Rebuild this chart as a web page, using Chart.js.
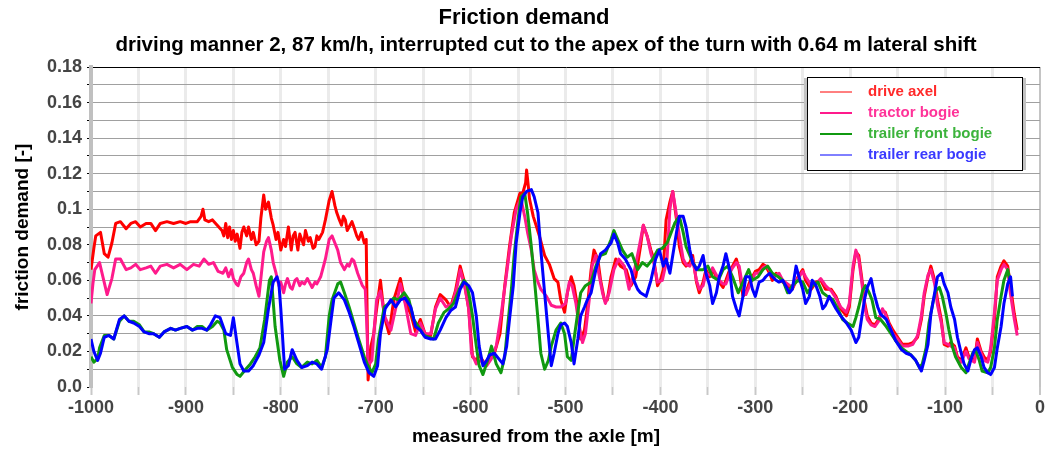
<!DOCTYPE html>
<html lang="en">
<head>
<meta charset="UTF-8">
<title>Friction demand</title>
<script src="https://cdn.jsdelivr.net/npm/chart.js@4"></script>
<style>
  html, body { margin: 0; padding: 0; background: #fff; }
  #wrap { width: 1048px; height: 451px; }
</style>
</head>
<body>
<div id="wrap"><canvas id="chart" width="1048" height="451"></canvas></div>
<script>
const FONT = "'Liberation Sans', Arial, sans-serif";

const seriesLabels = ['drive axel', 'tractor bogie', 'trailer front bogie', 'trailer rear bogie'];
const xTickLabels = ['-1000', '', '-900', '', '-800', '', '-700', '', '-600', '', '-500', '',
  '-400', '', '-300', '', '-200', '', '-100', '', '0'];
const yTickLabels = ['0.0', '', '0.02', '', '0.04', '', '0.06', '', '0.08', '', '0.1', '',
  '0.12', '', '0.14', '', '0.16', '', '0.18'];
const subtitleText = 'driving manner 2, 87 km/h, interrupted cut to the apex of the turn with 0.64 m lateral shift';
const xAxisTitle = 'measured from the axle [m]';

// [distance m, friction demand]
const driveAxel = [
  [-1000,0.066],[-997,0.078],[-995,0.085],[-990,0.087],[-986,0.075],[-982,0.073],[-978,0.081],
  [-974,0.092],[-969,0.093],[-963,0.089],[-958,0.092],[-953,0.093],[-948,0.090],[-942,0.092],
  [-937,0.092],[-932,0.088],[-927,0.092],[-920,0.093],[-913,0.092],[-906,0.093],[-900,0.092],
  [-895,0.093],[-888,0.093],[-884,0.096],[-882,0.100],[-880,0.094],[-876,0.093],[-872,0.094],
  [-867,0.091],[-862,0.088],[-860,0.085],[-858,0.092],[-856,0.084],[-854,0.090],[-852,0.083],
  [-850,0.088],[-848,0.082],[-846,0.086],[-843,0.078],[-841,0.087],[-839,0.090],[-836,0.085],
  [-834,0.090],[-831,0.083],[-829,0.087],[-826,0.080],[-823,0.082],[-821,0.095],[-818,0.108],
  [-816,0.100],[-813,0.104],[-810,0.095],[-808,0.091],[-805,0.083],[-803,0.087],[-800,0.077],
  [-797,0.083],[-795,0.079],[-792,0.090],[-789,0.077],[-787,0.085],[-785,0.087],[-782,0.077],
  [-780,0.086],[-778,0.083],[-776,0.080],[-774,0.088],[-771,0.082],[-769,0.084],[-766,0.078],
  [-764,0.079],[-762,0.085],[-760,0.083],[-756,0.087],[-753,0.094],[-749,0.105],[-746,0.110],
  [-743,0.102],[-741,0.098],[-739,0.095],[-736,0.091],[-734,0.096],[-732,0.094],[-730,0.088],
  [-728,0.090],[-725,0.093],[-723,0.090],[-720,0.085],[-718,0.083],[-715,0.087],[-712,0.081],
  [-710,0.083],[-709,0.040],[-708,0.004],[-705,0.023],[-702,0.030],[-700,0.040],[-695,0.060],
  [-691,0.040],[-686,0.030],[-681,0.049],[-674,0.061],[-669,0.048],[-663,0.041],[-658,0.031],
  [-653,0.038],[-648,0.030],[-642,0.029],[-637,0.045],[-632,0.052],[-626,0.049],[-621,0.045],
  [-616,0.054],[-611,0.068],[-607,0.060],[-602,0.044],[-598,0.017],[-594,0.015],[-591,0.018],
  [-585,0.013],[-580,0.017],[-576,0.017],[-569,0.030],[-564,0.057],[-559,0.079],[-554,0.098],
  [-548,0.109],[-545,0.109],[-542,0.115],[-541,0.122],[-539,0.112],[-538,0.106],[-534,0.096],
  [-531,0.091],[-527,0.084],[-522,0.074],[-517,0.069],[-512,0.061],[-508,0.059],[-505,0.049],
  [-501,0.042],[-498,0.053],[-494,0.062],[-491,0.057],[-487,0.044],[-484,0.027],[-480,0.032],
  [-477,0.045],[-473,0.066],[-470,0.077],[-466,0.072],[-463,0.060],[-459,0.049],[-456,0.049],
  [-452,0.062],[-447,0.072],[-442,0.068],[-436,0.066],[-431,0.057],[-426,0.062],[-421,0.079],
  [-418,0.091],[-414,0.085],[-410,0.077],[-407,0.072],[-403,0.057],[-400,0.060],[-397,0.066],
  [-394,0.094],[-390,0.104],[-387,0.110],[-383,0.094],[-380,0.079],[-376,0.070],[-373,0.068],
  [-369,0.070],[-366,0.074],[-362,0.059],[-359,0.053],[-355,0.059],[-352,0.066],[-348,0.062],
  [-345,0.066],[-341,0.062],[-338,0.059],[-334,0.056],[-331,0.060],[-327,0.066],[-324,0.068],
  [-320,0.072],[-317,0.066],[-313,0.051],[-310,0.053],[-306,0.059],[-303,0.062],[-300,0.065],
  [-296,0.066],[-292,0.069],[-289,0.068],[-285,0.064],[-282,0.060],[-278,0.064],[-275,0.062],
  [-271,0.059],[-266,0.057],[-261,0.055],[-255,0.062],[-250,0.066],[-247,0.060],[-241,0.055],
  [-236,0.059],[-231,0.060],[-226,0.055],[-220,0.055],[-215,0.051],[-210,0.044],[-204,0.040],
  [-201,0.045],[-197,0.066],[-194,0.076],[-191,0.074],[-188,0.062],[-185,0.048],[-182,0.040],
  [-178,0.036],[-174,0.035],[-170,0.038],[-166,0.043],[-163,0.042],[-159,0.036],[-155,0.032],
  [-150,0.028],[-145,0.024],[-139,0.024],[-134,0.025],[-129,0.028],[-125,0.038],[-122,0.051],
  [-118,0.062],[-115,0.068],[-111,0.060],[-108,0.049],[-104,0.038],[-101,0.024],[-97,0.023],
  [-94,0.025],[-90,0.023],[-87,0.017],[-83,0.015],[-78,0.022],[-75,0.017],[-69,0.015],
  [-66,0.027],[-62,0.020],[-59,0.017],[-55,0.015],[-52,0.020],[-48,0.038],[-45,0.062],
  [-41,0.068],[-38,0.071],[-34,0.068],[-31,0.056],[-27,0.041],[-24,0.032]
];

const tractorBogie = [
  [-1000,0.047],[-998,0.058],[-996,0.066],[-991,0.070],[-987,0.061],[-983,0.052],[-978,0.061],
  [-974,0.072],[-969,0.072],[-963,0.066],[-958,0.067],[-953,0.069],[-948,0.066],[-942,0.067],
  [-937,0.068],[-932,0.064],[-927,0.068],[-920,0.069],[-913,0.067],[-906,0.069],[-899,0.066],
  [-892,0.069],[-886,0.068],[-881,0.072],[-876,0.069],[-871,0.070],[-866,0.065],[-861,0.064],
  [-858,0.067],[-855,0.062],[-852,0.066],[-850,0.061],[-847,0.058],[-845,0.057],[-842,0.062],
  [-839,0.064],[-836,0.070],[-834,0.072],[-831,0.066],[-829,0.064],[-826,0.057],[-823,0.051],
  [-820,0.066],[-818,0.076],[-815,0.082],[-813,0.084],[-810,0.077],[-808,0.070],[-805,0.064],
  [-802,0.057],[-800,0.059],[-797,0.053],[-795,0.058],[-793,0.061],[-790,0.056],[-788,0.055],
  [-785,0.060],[-783,0.061],[-780,0.057],[-778,0.059],[-775,0.058],[-772,0.061],[-770,0.059],
  [-767,0.056],[-764,0.059],[-762,0.058],[-758,0.062],[-753,0.072],[-749,0.083],[-746,0.085],
  [-743,0.081],[-740,0.077],[-737,0.070],[-733,0.066],[-730,0.069],[-728,0.068],[-725,0.072],
  [-723,0.071],[-719,0.064],[-714,0.057],[-711,0.055],[-709,0.030],[-708,0.012],[-704,0.015],
  [-702,0.030],[-699,0.049],[-695,0.054],[-690,0.039],[-684,0.032],[-679,0.044],[-674,0.058],
  [-669,0.047],[-663,0.030],[-658,0.029],[-653,0.036],[-648,0.030],[-642,0.030],[-637,0.044],
  [-632,0.050],[-626,0.045],[-619,0.047],[-614,0.057],[-611,0.066],[-606,0.056],[-602,0.044],
  [-599,0.019],[-594,0.013],[-589,0.015],[-583,0.012],[-578,0.016],[-573,0.023],[-568,0.040],
  [-562,0.064],[-557,0.085],[-552,0.100],[-547,0.106],[-543,0.096],[-540,0.087],[-536,0.077],
  [-533,0.066],[-529,0.059],[-526,0.055],[-520,0.051],[-515,0.046],[-510,0.045],[-505,0.045],
  [-500,0.047],[-496,0.059],[-493,0.057],[-489,0.047],[-485,0.032],[-482,0.025],[-479,0.030],
  [-475,0.049],[-472,0.068],[-468,0.074],[-465,0.064],[-461,0.053],[-458,0.047],[-454,0.053],
  [-449,0.066],[-444,0.072],[-438,0.068],[-433,0.055],[-428,0.064],[-423,0.077],[-418,0.091],
  [-414,0.085],[-410,0.075],[-407,0.070],[-403,0.059],[-398,0.060],[-393,0.072],[-390,0.100],
  [-387,0.110],[-384,0.100],[-380,0.085],[-376,0.072],[-373,0.069],[-369,0.068],[-366,0.072],
  [-362,0.060],[-359,0.055],[-355,0.057],[-352,0.064],[-348,0.063],[-345,0.067],[-341,0.063],
  [-338,0.060],[-334,0.058],[-331,0.058],[-327,0.064],[-324,0.067],[-320,0.070],[-317,0.068],
  [-313,0.055],[-310,0.052],[-306,0.057],[-303,0.061],[-300,0.064],[-296,0.064],[-292,0.067],
  [-289,0.068],[-285,0.066],[-282,0.062],[-278,0.063],[-275,0.064],[-271,0.060],[-266,0.058],
  [-261,0.056],[-255,0.061],[-250,0.065],[-247,0.062],[-241,0.057],[-236,0.058],[-231,0.061],
  [-226,0.057],[-220,0.054],[-215,0.050],[-210,0.045],[-204,0.042],[-201,0.047],[-197,0.068],
  [-194,0.077],[-191,0.072],[-188,0.060],[-185,0.046],[-182,0.038],[-178,0.035],[-174,0.034],
  [-170,0.037],[-166,0.044],[-163,0.041],[-159,0.035],[-155,0.030],[-150,0.027],[-145,0.023],
  [-139,0.023],[-134,0.024],[-129,0.029],[-125,0.040],[-122,0.053],[-118,0.063],[-115,0.066],
  [-111,0.058],[-108,0.046],[-104,0.036],[-101,0.025],[-97,0.024],[-94,0.023],[-90,0.022],
  [-87,0.016],[-83,0.014],[-78,0.020],[-75,0.016],[-69,0.014],[-66,0.025],[-62,0.019],
  [-59,0.015],[-55,0.014],[-52,0.022],[-48,0.042],[-45,0.060],[-41,0.066],[-38,0.069],
  [-34,0.066],[-31,0.052],[-27,0.038],[-24,0.029]
];

const trailerFront = [
  [-1000,0.017],[-997,0.014],[-993,0.016],[-991,0.022],[-986,0.029],[-981,0.029],[-976,0.027],
  [-970,0.037],[-965,0.040],[-960,0.037],[-955,0.037],[-949,0.035],[-944,0.031],[-939,0.031],
  [-934,0.030],[-928,0.028],[-923,0.031],[-916,0.033],[-911,0.032],[-906,0.033],[-899,0.034],
  [-893,0.032],[-888,0.034],[-883,0.034],[-878,0.032],[-872,0.034],[-867,0.037],[-864,0.036],
  [-860,0.032],[-857,0.021],[-851,0.011],[-846,0.007],[-843,0.006],[-837,0.010],[-832,0.013],
  [-827,0.017],[-822,0.022],[-817,0.038],[-812,0.060],[-810,0.062],[-806,0.034],[-801,0.015],
  [-797,0.006],[-793,0.014],[-788,0.017],[-783,0.013],[-778,0.011],[-772,0.014],[-767,0.013],
  [-762,0.015],[-757,0.011],[-753,0.017],[-749,0.040],[-746,0.049],[-740,0.058],[-737,0.059],
  [-733,0.053],[-728,0.045],[-723,0.036],[-718,0.027],[-712,0.017],[-709,0.013],[-704,0.008],
  [-700,0.013],[-697,0.027],[-691,0.045],[-686,0.047],[-681,0.050],[-676,0.049],[-670,0.053],
  [-665,0.049],[-660,0.038],[-655,0.034],[-649,0.029],[-644,0.028],[-639,0.027],[-634,0.036],
  [-628,0.042],[-623,0.044],[-618,0.047],[-612,0.055],[-607,0.060],[-604,0.058],[-601,0.050],
  [-598,0.040],[-594,0.023],[-591,0.012],[-587,0.007],[-582,0.015],[-578,0.023],[-573,0.013],
  [-568,0.008],[-564,0.017],[-561,0.034],[-557,0.055],[-554,0.075],[-550,0.094],[-547,0.107],
  [-543,0.109],[-540,0.098],[-536,0.079],[-533,0.062],[-529,0.038],[-526,0.019],[-522,0.010],
  [-518,0.015],[-515,0.023],[-510,0.032],[-505,0.036],[-501,0.030],[-498,0.017],[-494,0.015],
  [-491,0.027],[-487,0.042],[-484,0.053],[-479,0.057],[-473,0.059],[-468,0.068],[-463,0.074],
  [-458,0.075],[-452,0.083],[-449,0.088],[-445,0.083],[-440,0.077],[-435,0.073],[-430,0.075],
  [-424,0.066],[-419,0.070],[-414,0.068],[-408,0.072],[-403,0.077],[-398,0.078],[-393,0.081],
  [-390,0.085],[-385,0.092],[-380,0.096],[-376,0.087],[-373,0.079],[-369,0.074],[-366,0.070],
  [-361,0.066],[-355,0.066],[-350,0.068],[-345,0.062],[-339,0.060],[-334,0.066],[-329,0.068],
  [-324,0.062],[-318,0.053],[-313,0.059],[-307,0.066],[-303,0.060],[-297,0.062],[-292,0.066],
  [-287,0.068],[-282,0.064],[-276,0.062],[-271,0.060],[-266,0.053],[-261,0.057],[-255,0.060],
  [-250,0.059],[-245,0.053],[-240,0.057],[-234,0.059],[-229,0.053],[-224,0.051],[-218,0.049],
  [-213,0.044],[-208,0.038],[-203,0.036],[-197,0.034],[-194,0.039],[-191,0.045],[-187,0.054],
  [-184,0.057],[-180,0.053],[-177,0.049],[-173,0.039],[-168,0.038],[-162,0.034],[-157,0.030],
  [-152,0.026],[-146,0.022],[-141,0.020],[-136,0.018],[-131,0.015],[-127,0.011],[-124,0.013],
  [-120,0.022],[-117,0.036],[-113,0.047],[-110,0.054],[-106,0.056],[-103,0.051],[-99,0.041],
  [-96,0.032],[-92,0.022],[-89,0.017],[-83,0.011],[-78,0.008],[-75,0.013],[-71,0.019],
  [-68,0.021],[-64,0.015],[-61,0.009],[-55,0.008],[-52,0.011],[-48,0.022],[-45,0.038],
  [-41,0.051],[-38,0.060],[-34,0.066],[-31,0.058]
];

const trailerRear = [
  [-1000,0.027],[-997,0.020],[-993,0.015],[-990,0.019],[-986,0.028],[-981,0.029],[-976,0.027],
  [-970,0.038],[-965,0.040],[-960,0.037],[-955,0.036],[-949,0.034],[-944,0.031],[-939,0.030],
  [-934,0.030],[-928,0.028],[-923,0.031],[-916,0.033],[-911,0.032],[-906,0.033],[-899,0.034],
  [-893,0.032],[-888,0.033],[-883,0.033],[-878,0.032],[-874,0.035],[-869,0.040],[-864,0.039],
  [-858,0.030],[-853,0.029],[-850,0.039],[-846,0.024],[-843,0.013],[-839,0.009],[-834,0.009],
  [-829,0.012],[-823,0.018],[-818,0.025],[-813,0.044],[-808,0.059],[-804,0.062],[-802,0.058],
  [-800,0.044],[-796,0.010],[-792,0.012],[-788,0.021],[-783,0.015],[-778,0.011],[-772,0.012],
  [-767,0.014],[-762,0.013],[-757,0.010],[-751,0.021],[-747,0.038],[-744,0.050],[-739,0.053],
  [-733,0.049],[-728,0.042],[-723,0.034],[-718,0.025],[-712,0.014],[-707,0.008],[-702,0.006],
  [-698,0.012],[-695,0.030],[-690,0.044],[-684,0.049],[-679,0.045],[-674,0.049],[-669,0.050],
  [-663,0.045],[-658,0.034],[-653,0.032],[-648,0.028],[-642,0.027],[-637,0.027],[-632,0.032],
  [-626,0.039],[-621,0.043],[-616,0.045],[-611,0.055],[-607,0.059],[-602,0.057],[-598,0.053],
  [-594,0.040],[-591,0.023],[-587,0.012],[-583,0.015],[-580,0.018],[-575,0.019],[-569,0.015],
  [-566,0.013],[-562,0.023],[-559,0.038],[-555,0.057],[-552,0.081],[-548,0.098],[-545,0.107],
  [-541,0.110],[-536,0.111],[-533,0.107],[-529,0.098],[-526,0.077],[-522,0.053],[-518,0.029],
  [-515,0.012],[-512,0.019],[-508,0.030],[-505,0.035],[-501,0.036],[-498,0.034],[-494,0.025],
  [-491,0.013],[-487,0.027],[-484,0.040],[-480,0.045],[-477,0.049],[-473,0.053],[-468,0.066],
  [-463,0.075],[-458,0.077],[-452,0.081],[-449,0.086],[-445,0.081],[-442,0.075],[-437,0.072],
  [-431,0.066],[-428,0.060],[-424,0.055],[-421,0.053],[-415,0.051],[-410,0.060],[-405,0.072],
  [-401,0.077],[-397,0.068],[-394,0.072],[-390,0.064],[-387,0.074],[-383,0.087],[-380,0.096],
  [-376,0.096],[-373,0.090],[-369,0.077],[-366,0.070],[-362,0.066],[-359,0.068],[-355,0.074],
  [-352,0.064],[-348,0.057],[-345,0.047],[-341,0.053],[-338,0.062],[-334,0.068],[-331,0.075],
  [-327,0.066],[-324,0.051],[-320,0.044],[-317,0.040],[-313,0.051],[-310,0.062],[-306,0.062],
  [-303,0.055],[-300,0.051],[-296,0.059],[-292,0.060],[-289,0.062],[-285,0.064],[-282,0.062],
  [-278,0.060],[-275,0.059],[-271,0.060],[-268,0.057],[-264,0.053],[-261,0.055],[-257,0.068],
  [-254,0.062],[-250,0.055],[-247,0.047],[-243,0.051],[-240,0.060],[-236,0.057],[-232,0.051],
  [-229,0.044],[-226,0.046],[-222,0.051],[-218,0.047],[-215,0.044],[-210,0.040],[-204,0.036],
  [-199,0.032],[-194,0.025],[-191,0.028],[-185,0.049],[-182,0.056],[-178,0.061],[-175,0.053],
  [-171,0.045],[-168,0.041],[-162,0.038],[-157,0.032],[-152,0.026],[-146,0.021],[-141,0.019],
  [-136,0.018],[-131,0.015],[-125,0.009],[-122,0.015],[-118,0.024],[-115,0.041],[-111,0.053],
  [-108,0.062],[-104,0.064],[-101,0.058],[-97,0.053],[-94,0.045],[-90,0.038],[-87,0.028],
  [-83,0.019],[-80,0.013],[-76,0.009],[-73,0.015],[-69,0.021],[-66,0.022],[-62,0.017],
  [-59,0.011],[-55,0.008],[-52,0.007],[-48,0.011],[-45,0.022],[-41,0.034],[-38,0.047],
  [-34,0.058],[-31,0.062],[-29,0.051]
];

const seriesData = [driveAxel, tractorBogie, trailerFront, trailerRear];
const seriesColors = ['#ff0000', '#ff1a8c', '#109910', '#0000ff'];
const legendTextColors = ['#ff2a2a', '#ff3399', '#3cb33c', '#3a3aff'];
const legendSampleWidths = [1, 2, 2, 1];

// framed legend in the upper right corner of the plot
const legendBox = {
  id: 'legendBox',
  afterDraw(chart, args, opts) {
    const ctx = chart.ctx;
    const { left, top, width, height } = opts;
    ctx.save();
    ctx.fillStyle = '#c2c2c2';
    ctx.fillRect(left - 3, top + 1, 3, height - 1);
    ctx.fillRect(left + width + 1, top + 1, 3, height - 1);
    ctx.fillStyle = '#fff';
    ctx.fillRect(left, top, width, height);
    ctx.strokeStyle = '#000';
    ctx.lineWidth = 1;
    ctx.strokeRect(left + 0.5, top + 0.5, width, height);
    ctx.font = 'bold 15px ' + FONT;
    ctx.textBaseline = 'middle';
    chart.data.datasets.forEach((ds, i) => {
      const y = top + opts.firstRow + i * opts.rowGap;
      ctx.strokeStyle = ds.borderColor;
      ctx.lineWidth = legendSampleWidths[i];
      ctx.beginPath();
      ctx.moveTo(left + 13, y);
      ctx.lineTo(left + 45, y);
      ctx.stroke();
      ctx.fillStyle = legendTextColors[i];
      ctx.fillText(ds.label, left + 61, y);
    });
    ctx.restore();
  }
};

// subtitle and x axis caption, both sit a little off the canvas centre in the source figure
const captions = {
  id: 'captions',
  afterDraw(chart, args, opts) {
    const ctx = chart.ctx;
    ctx.save();
    ctx.fillStyle = '#000';
    ctx.textAlign = 'center';
    ctx.textBaseline = 'middle';
    opts.items.forEach(it => {
      ctx.font = 'bold ' + it.size + 'px ' + FONT;
      ctx.fillText(it.text, it.x, it.y);
    });
    ctx.restore();
  }
};

const near = (a, b) => Math.abs(a - b) < 1e-6;

new Chart(document.getElementById('chart'), {
  type: 'line',
  data: {
    datasets: seriesData.map((pts, i) => ({
      label: seriesLabels[i],
      data: pts.map(p => ({ x: p[0], y: p[1] })),
      borderColor: seriesColors[i],
      backgroundColor: seriesColors[i],
      borderWidth: 3,
      pointRadius: 0,
      borderJoinStyle: 'round',
      order: 4 - i
    }))
  },
  options: {
    responsive: false,
    animation: false,
    devicePixelRatio: 1,
    layout: { padding: { left: 8, right: 8, top: 0, bottom: 0 } },
    plugins: {
      legend: { display: false },
      tooltip: { enabled: false },
      title: {
        display: true,
        text: 'Friction demand',
        color: '#000',
        font: { family: FONT, size: 22, weight: 'bold' },
        padding: { top: 5, bottom: 35.6 }
      },
      legendBox: { left: 807, top: 77, width: 215, height: 93, firstRow: 15, rowGap: 21 },
      captions: {
        items: [
          { text: subtitleText, x: 546, y: 45, size: 20.5 },
          { text: xAxisTitle, x: 536, y: 437, size: 19 }
        ]
      }
    },
    scales: {
      x: {
        type: 'linear',
        min: -1000,
        max: 0,
        afterFit: s => { s.height = 64; },
        ticks: {
          stepSize: 50,
          autoSkip: false,
          maxRotation: 0,
          padding: 2,
          color: '#444',
          font: { family: FONT, size: 18, weight: 'bold' },
          callback: (v, i) => xTickLabels[i]
        },
        grid: {
          color: c => (c.tick && near(c.tick.value, 0)) ? '#c4c4c4' : '#ebebeb',
          lineWidth: c => (c.tick && near(c.tick.value, 0)) ? 2 : 3,
          tickColor: '#c8c8c8',
          tickLength: 8,
          tickWidth: 2
        },
        border: { display: false },
        title: { display: false }
      },
      y: {
        min: 0,
        max: 0.18,
        afterFit: s => { s.width = 83; },
        ticks: {
          stepSize: 0.01,
          autoSkip: false,
          padding: 5,
          color: '#444',
          font: { family: FONT, size: 18, weight: 'bold' },
          callback: (v, i) => yTickLabels[i]
        },
        grid: {
          color: c => {
            if (!c.tick) return '#a0a0a0';
            if (near(c.tick.value, 0.18)) return '#000';
            if (near(c.tick.value, 0)) return 'rgba(0,0,0,0)';
            return '#a0a0a0';
          },
          lineWidth: 1,
          tickColor: '#000',
          tickLength: 4
        },
        border: { display: true, color: '#c0c0c0', width: 4 },
        title: {
          display: true,
          text: 'friction demand [-]',
          color: '#000',
          font: { family: FONT, size: 19, weight: 'bold' },
          padding: { top: 3, bottom: 0 }
        }
      }
    }
  },
  plugins: [legendBox, captions]
});
</script>
</body>
</html>
